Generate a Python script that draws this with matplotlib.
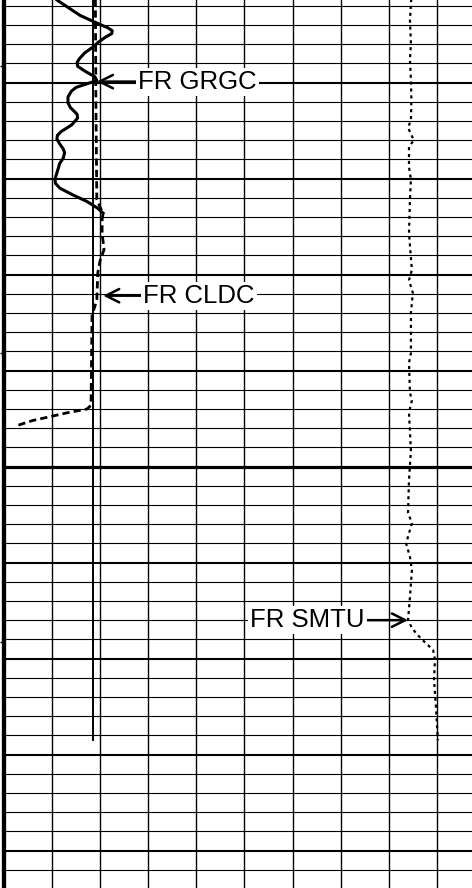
import matplotlib
matplotlib.use('Agg')
import matplotlib.pyplot as plt

plt.rcParams['font.family'] = ['Liberation Sans', 'DejaVu Sans']

# gamma ray (solid)
gr_depth = [1451.0, 1451.4, 1452.1, 1453.0, 1453.8, 1454.3, 1454.6, 1454.9, 1455.3, 1455.8,
            1456.3, 1456.9, 1457.5, 1457.9, 1458.3, 1458.8, 1459.4, 1459.8, 1460.1, 1460.5,
            1460.9, 1461.5, 1462.1, 1462.6, 1463.3, 1463.7, 1464.4, 1465.1, 1465.5, 1465.9,
            1466.4, 1466.9, 1467.3, 1467.9, 1468.4, 1469.4, 1470.1, 1470.5, 1471.0, 1471.7,
            1472.4, 1473.1, 1473.6]
gr_value = [10.2, 11.0, 13.1, 15.8, 19.3, 21.6, 22.5, 22.4, 21.0, 19.6,
            18.5, 16.8, 15.7, 15.2, 15.3, 16.8, 18.9, 19.3, 17.4, 15.0,
            14.0, 13.3, 13.3, 13.8, 15.2, 15.3, 14.1, 11.9, 11.1, 11.0,
            11.6, 12.3, 12.6, 12.3, 11.6, 11.0, 10.6, 10.7, 11.6, 14.3,
            17.3, 19.5, 20.6]

# caliper (dashed)
cl_depth = [1451.0, 1461.8, 1472.2, 1473.0, 1473.6, 1474.3, 1475.7, 1477.4, 1478.5, 1479.8,
            1482.6, 1483.3, 1484.2, 1488.9, 1493.6, 1494.0, 1494.4, 1494.8, 1495.2, 1495.7]
cl_value = [19.0, 19.1, 19.3, 20.0, 20.6, 20.4, 20.4, 20.8, 20.0, 19.5,
            19.3, 18.9, 18.3, 18.2, 18.1, 17.3, 13.1, 9.6, 6.0, 2.9]

# bit size reference (solid thin)
bit_depth = [1451.0, 1528.5]
bit_value = [18.45, 18.45]

# SMTU (dotted)
sm_depth = [1451.0, 1453.5, 1455.9, 1457.6, 1459.7, 1461.8, 1463.9, 1464.7, 1466.0, 1466.7,
            1468.8, 1470.1, 1472.2, 1475.7, 1479.5, 1480.6, 1481.9, 1484.0, 1488.2, 1489.2,
            1492.3, 1493.1, 1494.4, 1498.3, 1501.4, 1504.8, 1505.9, 1508.0, 1509.4, 1510.8,
            1513.6, 1516.0, 1516.8, 1517.5, 1518.3, 1519.1, 1520.1, 1522.2, 1525.0, 1528.5]
sm_value = [84.7, 84.4, 84.6, 84.4, 84.6, 84.7, 84.6, 84.0, 85.2, 84.2,
            84.2, 84.6, 84.4, 84.2, 84.8, 84.2, 85.0, 84.6, 84.6, 84.2,
            84.4, 84.8, 84.2, 84.6, 84.2, 84.0, 84.8, 83.6, 84.4, 84.8,
            84.4, 84.0, 84.8, 85.9, 87.5, 89.2, 89.6, 89.4, 89.8, 90.2]

labels = ['FR GRGC', 'FR CLDC', 'FR SMTU']
label_tips = [(19.3, 1459.9), (20.6, 1482.2), (84.0, 1516.0)]
label_text_x = [27.9, 28.9, 75.0]

depth_ticks = [1458.3, 1488.2, 1518.3]

fig = plt.figure(figsize=(4.72, 8.88), dpi=100)
ax = fig.add_axes([4 / 472, 0, 468 / 472, 1])
ax.set_xlim(0, 97.3)
ax.set_ylim(1543.9, 1451.4)

# grid
for x in range(10, 100, 10):
    ax.axvline(x, color='black', lw=1.0, zorder=1)
for d in range(1452, 1546, 2):
    if d % 50 == 0:
        lw = 2.3
    elif d % 10 == 0:
        lw = 1.5
    else:
        lw = 0.8
    ax.axhline(d, color='black', lw=lw, zorder=1)

ax.plot(bit_value, bit_depth, color='black', lw=1.4, zorder=2)
ax.plot(gr_value, gr_depth, color='black', lw=2.2, solid_joinstyle='round', zorder=3)
ax.plot(cl_value, cl_depth, color='black', lw=2.0, ls=(0, (2.6, 1.5)), zorder=3)
ax.plot(sm_value, sm_depth, color='black', lw=1.6, ls=(0, (1.4, 1.7)), zorder=3)

for i in range(3):
    ha = 'right' if i == 2 else 'left'
    ax.annotate(labels[i], xy=label_tips[i], xytext=(label_text_x[i], label_tips[i][1]),
                ha=ha, va='center', fontsize=18.5, color='black', zorder=5,
                bbox=dict(boxstyle='square,pad=0.08', fc='white', ec='none'),
                arrowprops=dict(arrowstyle='->', color='black', lw=1.8,
                                mutation_scale=24, shrinkA=0, shrinkB=0))

for s in ['top', 'right', 'bottom']:
    ax.spines[s].set_visible(False)
ax.spines['left'].set_linewidth(3.1)
ax.set_xticks([])
ax.set_yticks(depth_ticks)
ax.set_yticklabels([])
ax.tick_params(axis='y', length=3, width=1, direction='out')

fig.savefig('out.png', dpi=100)
